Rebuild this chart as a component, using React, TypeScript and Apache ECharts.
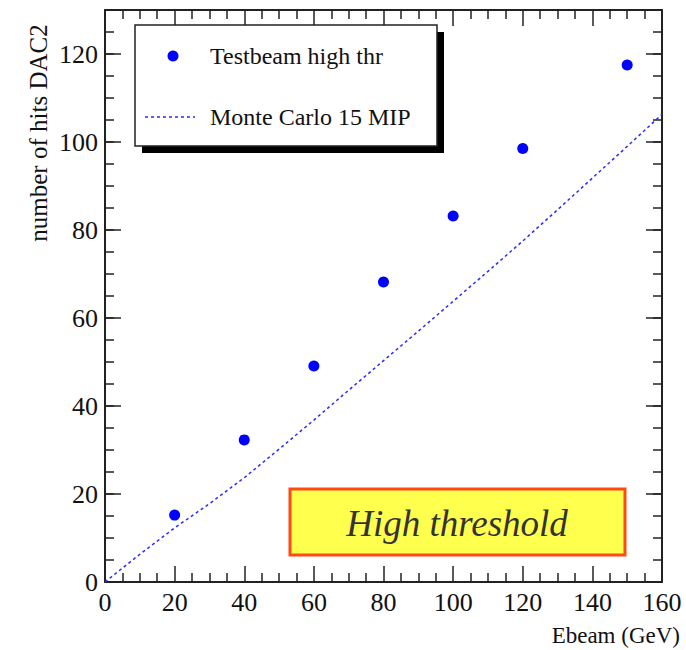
import React, { useEffect, useRef } from "react";
import * as echarts from "echarts";

const beamEnergies = [20, 40, 60, 80, 100, 120, 150];
const testbeamHits = [15.2, 32.3, 49.1, 68.2, 83.2, 98.5, 117.5];

const mcEnergies = [0, 10, 20, 30, 40, 50, 60, 70, 80, 90, 100, 110, 120, 130, 140, 150, 160];
const mcHits = [0, 6.3, 12.3, 17.8, 23.7, 30.2, 36.8, 43.6, 50.3, 57, 63.8, 70.6, 77.5, 84.6, 91.8, 99, 106.3];

const xTitle = "Ebeam (GeV)";
const yTitle = "number of hits DAC2";
const legendNames = ["Testbeam high thr", "Monte Carlo 15 MIP"];
const boxLabel = "High threshold";

const FONT = "'Liberation Serif', 'DejaVu Serif', serif";
const FRAME = "#222";

export default function App() {
  const ref = useRef<HTMLDivElement>(null);
  useEffect(() => {
    if (!ref.current) return;
    const chart = echarts.init(ref.current, undefined, { renderer: "svg" });
    const lineStyle = { color: FRAME, width: 2 };
    const tickStyle = { color: FRAME, width: 1.5 };
    const major = (pos: string, labels: boolean, max: number, interval: number, len: number, line: boolean) => ({
      type: "value",
      position: pos,
      min: 0,
      max,
      interval,
      axisLine: { show: line, onZero: false, lineStyle },
      axisTick: { show: true, inside: true, length: len, lineStyle: tickStyle },
      axisLabel: labels
        ? {
            show: true,
            fontFamily: FONT,
            fontSize: 26,
            color: "#111",
            margin: 7,
            formatter: (v: number) => (v % 20 === 0 ? String(v) : ""),
          }
        : { show: false },
      splitLine: { show: false },
    });
    const xMain = (pos: string, labels: boolean) => ({
      ...major(pos, labels, 160, 20, 16, true),
      minorTick: { show: true, splitNumber: 4, length: 9, lineStyle: tickStyle },
    });
    chart.setOption({
      animation: false,
      backgroundColor: "#fff",
      grid: { left: 105, right: 24, top: 10, bottom: 68, containLabel: false },
      xAxis: [xMain("bottom", true), xMain("top", false)],
      yAxis: [
        major("left", true, 130, 20, 16, true),
        major("left", false, 130, 5, 9, false),
        major("right", false, 130, 20, 16, true),
        major("right", false, 130, 5, 9, false),
      ],
      series: [
        {
          name: legendNames[1],
          type: "line",
          xAxisIndex: 0,
          yAxisIndex: 0,
          data: mcEnergies.map((e, i) => [e, mcHits[i]]),
          showSymbol: false,
          symbol: "none",
          lineStyle: { color: "#2a2aff", width: 1.5, type: [3, 3] },
          z: 2,
        },
        {
          name: legendNames[0],
          type: "scatter",
          xAxisIndex: 0,
          yAxisIndex: 0,
          data: beamEnergies.map((e, i) => [e, testbeamHits[i]]),
          symbol: "circle",
          symbolSize: 11,
          itemStyle: { color: "#0000ff", opacity: 1 },
          z: 3,
        },
      ],
      graphic: [
        { type: "rect", shape: { x: 142, y: 32, width: 302, height: 121 }, style: { fill: "#000" }, z: 10 },
        {
          type: "rect",
          shape: { x: 135, y: 25, width: 302, height: 121 },
          style: { fill: "#fff", stroke: FRAME, lineWidth: 1.5 },
          z: 11,
        },
        { type: "circle", shape: { cx: 173, cy: 56, r: 5.5 }, style: { fill: "#0000ff" }, z: 12 },
        {
          type: "text",
          x: 210,
          y: 56,
          style: { text: legendNames[0], font: `24px ${FONT}`, fill: "#111", verticalAlign: "middle" },
          z: 12,
        },
        {
          type: "line",
          shape: { x1: 145, y1: 117, x2: 195, y2: 117 },
          style: { stroke: "#2a2aff", lineWidth: 1.5, lineDash: [3, 3] },
          z: 12,
        },
        {
          type: "text",
          x: 210,
          y: 117,
          style: { text: legendNames[1], font: `24px ${FONT}`, fill: "#111", verticalAlign: "middle" },
          z: 12,
        },
        {
          type: "rect",
          shape: { x: 290, y: 489, width: 335, height: 66 },
          style: { fill: "#ffff4d", stroke: "#ff4a14", lineWidth: 3 },
          z: 10,
        },
        {
          type: "text",
          x: 457,
          y: 523,
          style: {
            text: boxLabel,
            font: `italic 37px ${FONT}`,
            fill: "#333",
            align: "center",
            verticalAlign: "middle",
          },
          z: 11,
        },
        {
          type: "text",
          x: 38,
          y: 133,
          rotation: Math.PI / 2,
          style: { text: yTitle, font: `25px ${FONT}`, fill: "#111", align: "center", verticalAlign: "middle" },
        },
        {
          type: "text",
          x: 680,
          y: 635,
          style: { text: xTitle, font: `23px ${FONT}`, fill: "#111", align: "right", verticalAlign: "middle" },
        },
      ],
    });
    return () => chart.dispose();
  }, []);
  return <div ref={ref} style={{ position: "fixed", left: 0, top: 0, width: 686, height: 650 }} />;
}
